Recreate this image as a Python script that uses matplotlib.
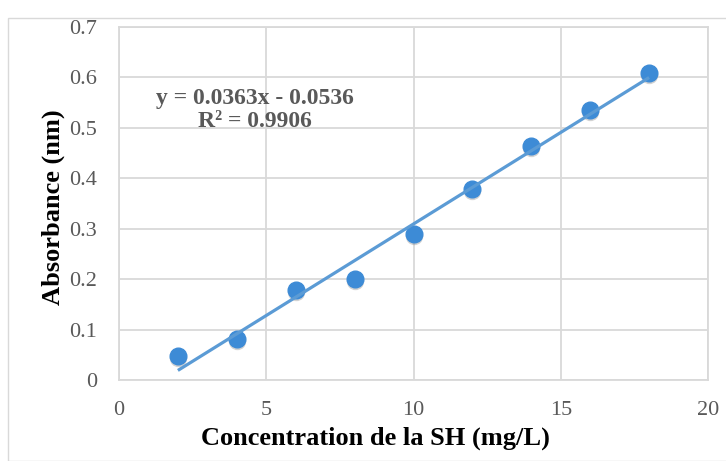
import matplotlib
matplotlib.use("Agg")
import matplotlib.pyplot as plt
import numpy as np
from matplotlib.patches import Rectangle

plt.rcParams['font.family'] = ['Liberation Serif', 'DejaVu Serif']

conc = [2, 4, 6, 8, 10, 12, 14, 16, 18]
absorb = [0.048, 0.081, 0.178, 0.201, 0.290, 0.378, 0.465, 0.536, 0.609]
slope = 0.0363
intercept = -0.0536
r2 = 0.9906
xticks = [0, 5, 10, 15, 20]
yticks = [0, 0.1, 0.2, 0.3, 0.4, 0.5, 0.6, 0.7]

fig = plt.figure(figsize=(7.26, 4.61), dpi=100)
fig.patches.append(Rectangle((8/726, 0), 1, 1 - 18/461, transform=fig.transFigure,
                             fill=False, edgecolor='#d9d9d9', linewidth=1.0))
ax = fig.add_axes([119/726, 1 - 380/461, (708-119)/726, (380-27)/461])

ax.set_xlim(0, 20)
ax.set_ylim(0, 0.7)
ax.set_xticks(xticks)
ax.set_yticks(yticks)
ax.set_xticklabels([str(t) for t in xticks])
ax.set_yticklabels(['0', '0.1', '0.2', '0.3', '0.4', '0.5', '0.6', '0.7'])
ax.grid(True, color='#d9d9d9', linewidth=1.3)
ax.set_axisbelow(True)
for s in ax.spines.values():
    s.set_color('#d9d9d9')
    s.set_linewidth(1.3)
ax.tick_params(length=0, labelsize=16, labelcolor='#595959')
ax.tick_params(axis='y', pad=16)
ax.tick_params(axis='x', pad=15)

# shadow
ax.plot(conc, [a - 0.004 for a in absorb], 'o', ms=12.5, color='#7f7f7f', alpha=0.35,
        mec='none', zorder=2)
x = np.array(conc, dtype=float)
ax.plot([x.min(), x.max()], [slope * x.min() + intercept, slope * x.max() + intercept],
        color='#5b9bd5', linewidth=2.3, zorder=4, solid_capstyle='butt')
ax.plot(conc, absorb, 'o', ms=12, color='#3d8bd6', mec='#3d8bd6', zorder=3)

ax.text(4.62, 0.535, f"y = {slope}x - {abs(intercept)}\nR² = {r2}", ha='center', va='center',
        fontsize=17, fontweight='bold', color='#595959', linespacing=1.1)

ax.set_xlabel('Concentration de la SH (mg/L)', fontsize=19, fontweight='bold', labelpad=5)
ax.xaxis.label.set_x(256/589)
ax.set_ylabel('Absorbance (nm)', fontsize=19, fontweight='bold', labelpad=3)
ax.yaxis.label.set_y(0.49)

fig.savefig('out.png', dpi=100)
